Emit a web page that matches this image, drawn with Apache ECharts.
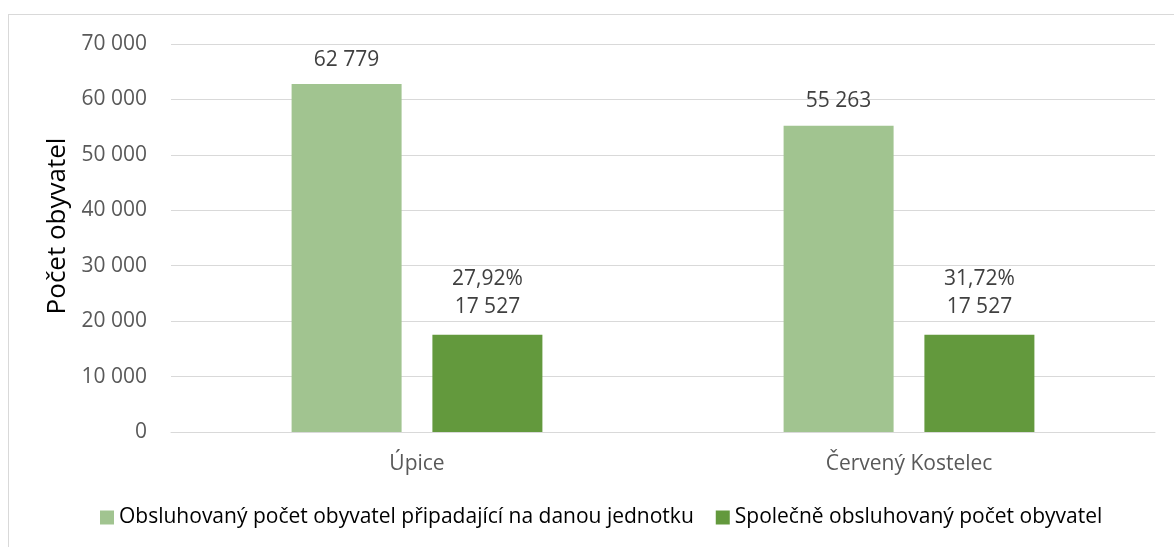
<!DOCTYPE html>
<html><head><meta charset="utf-8">
<script src="https://cdn.jsdelivr.net/npm/echarts@6/dist/echarts.min.js"></script>
<style>
html,body{margin:0;padding:0;background:#fff;}
#frame{position:absolute;left:8px;top:14px;width:1200px;height:600px;border:1px solid #d9d9d9;box-sizing:border-box;}
#c{position:absolute;left:0;top:0;width:1174px;height:547px;}
</style></head>
<body><div id="frame"></div><div id="c"></div>
<script>
const categories = ['Úpice', 'Červený Kostelec'];
const seriesNames = ['Obsluhovaný počet obyvatel připadající na danou jednotku', 'Společně obsluhovaný počet obyvatel'];
const unitValues = [62779, 55263];
const sharedValues = [17527, 17527];
const sharedPercents = ['27,92%', '31,72%'];
const yTitle = 'Počet obyvatel';

const FONT = 'Open Sans';
function fmt(v){ return String(v).replace(/\B(?=(\d{3})+(?!\d))/g, ' '); }

const chart = echarts.init(document.getElementById('c'));
chart.setOption({
  animation: false,
  textStyle: { fontFamily: FONT },
  grid: { left: 171, right: 19, top: 44, bottom: 115 },
  legend: {
    bottom: 14, left: 95, itemWidth: 14, itemHeight: 14, itemGap: 22,
    icon: 'rect',
    textStyle: { fontSize: 21, color: '#000', fontFamily: FONT }
  },
  xAxis: {
    type: 'category', data: categories,
    axisLine: { lineStyle: { color: '#d9d9d9', width: 1 } },
    axisTick: { show: false },
    axisLabel: { fontSize: 21, color: '#595959', margin: 22 }
  },
  yAxis: {
    type: 'value', min: 0, max: 70000, interval: 10000,
    name: yTitle, nameLocation: 'middle', nameGap: 100, nameRotate: 90,
    nameTextStyle: { fontSize: 26, color: '#000', padding: [0, 0, 0, 24] },
    axisLine: { show: false }, axisTick: { show: false },
    axisLabel: { fontSize: 21, color: '#595959', margin: 24, formatter: v => fmt(v) },
    splitLine: { lineStyle: { color: '#d9d9d9', width: 1 } }
  },
  series: [
    {
      name: seriesNames[0], type: 'bar', data: unitValues, barWidth: 110, barGap: '28%',
      itemStyle: { color: '#a1c490' },
      label: { show: true, position: 'top', distance: 14, fontSize: 21, color: '#404040', formatter: p => fmt(p.value) }
    },
    {
      name: seriesNames[1], type: 'bar', data: sharedValues, barWidth: 110,
      itemStyle: { color: '#63993d' },
      label: { show: true, position: 'top', distance: 14, fontSize: 21, color: '#404040', lineHeight: 28,
        formatter: p => sharedPercents[p.dataIndex] + '\n' + fmt(p.value) }
    }
  ]
});
</script></body></html>
